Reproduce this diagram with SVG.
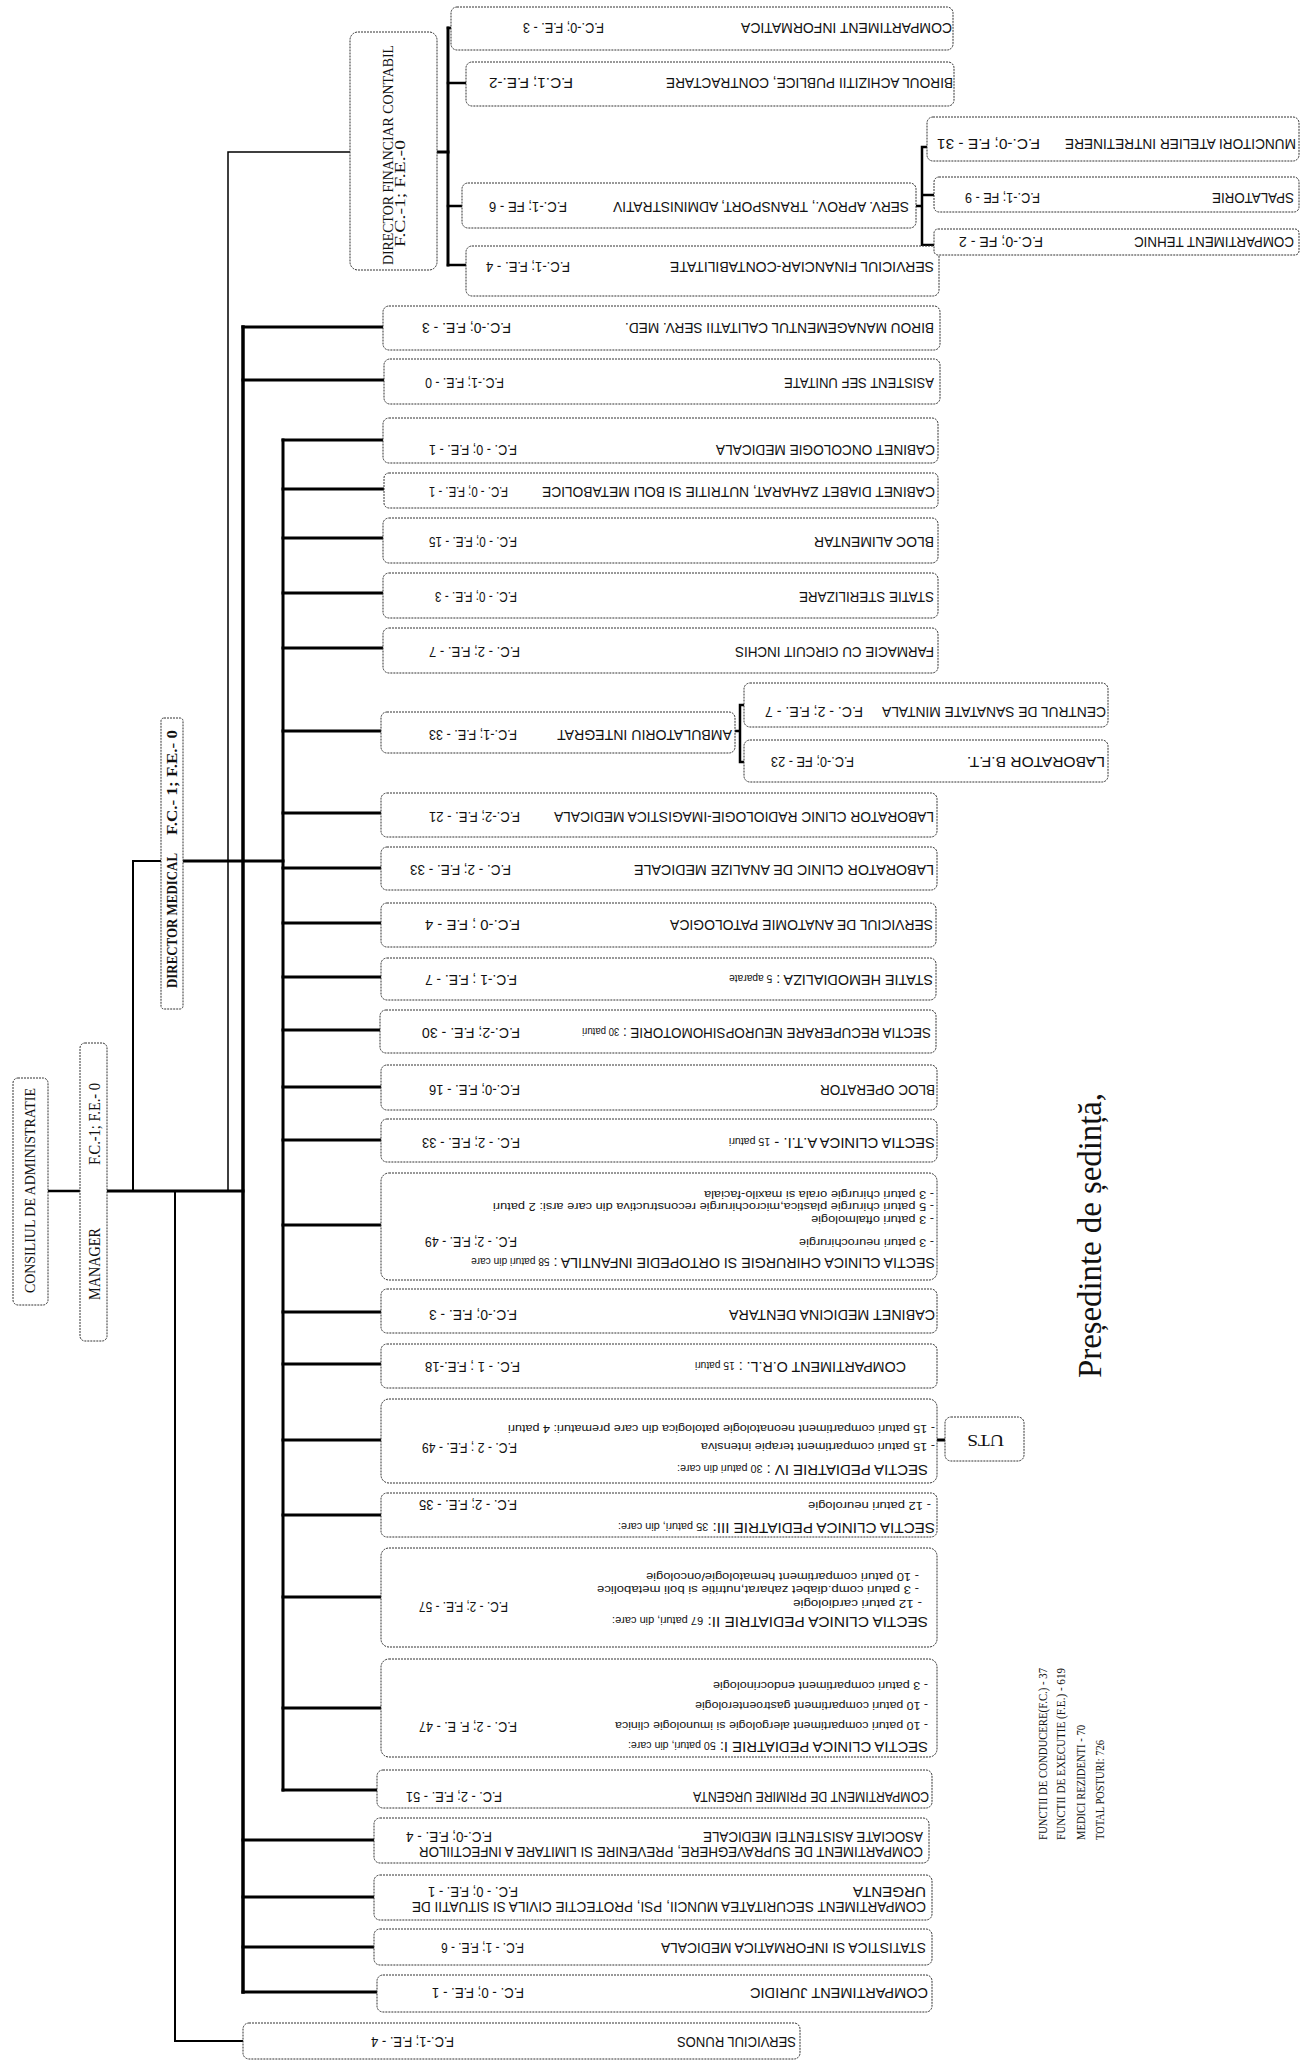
<svg xmlns="http://www.w3.org/2000/svg" width="1302" height="2067" viewBox="0 0 1302 2067">
<style>
.bg{fill:#fff}
.box{fill:#fff;stroke:#333;stroke-width:1;stroke-dasharray:2 1}
.c{fill:none;stroke:#000;stroke-linecap:square}
.w15{stroke-width:1.5}.w2{stroke-width:2}.w25{stroke-width:2.5}.w3{stroke-width:3}.w35{stroke-width:3.5}
.t{font-family:"Liberation Sans Narrow","Liberation Sans",Arial,sans-serif;font-size:14px;fill:#111}
.s{font-family:"Liberation Sans Narrow","Liberation Sans",Arial,sans-serif;font-size:10px;fill:#111}
.sm{font-size:10px}
.sf{font-family:"Liberation Serif","Times New Roman",serif;fill:#111}
</style>
<rect class="bg" x="0" y="0" width="1302" height="2067"/>

<g id="connectors">
<path class="c w25" d="M48 1191H80"/>
<path class="c w3" d="M107 1191H243"/>
<path class="c w2" d="M133 1191V861H161"/>
<path class="c w3" d="M183 861H283"/>
<path class="c w15" d="M228 1191V152H350"/>
<path class="c w3" d="M437 152H448"/>
<path class="c w3" d="M448 28V265"/>
<path class="c w25" d="M448 28H451M448 83H466M448 206H462M448 265H466"/>
<path class="c w25" d="M916 206H922M922 147V245M922 147H927M922 195H934M922 245H934"/>
<path class="c w35" d="M243 327V1992"/>
<path class="c w3" d="M243 327H383M243 380H384M243 1840H374M243 1897H374M243 1947H374M243 1992H377"/>
<path class="c w2" d="M175 1191V2041H243"/>
<path class="c w3" d="M283 440V1790"/>
<path class="c w3" d="M283 440H383M283 489H384M283 538H383M283 593H383M283 648H383M283 731H381M283 813H381M283 868H381M283 923H381M283 977H381M283 1030H380M283 1087H381M283 1140H381M283 1225H381M283 1312H381M283 1364H381M283 1440H381M283 1515H381M283 1597H381M283 1708H381M283 1790H377"/>
<path class="c w25" d="M735 731H740M740 705V762M740 705H744M740 762H744"/>
<path class="c w3" d="M937 1440H945"/>
</g>

<g id="consiliul">
<rect class="box" x="13" y="1078" width="35" height="227" rx="5"/>
<text class="sf" font-size="15" x="35" y="1293" transform="rotate(-90 35 1293)" textLength="205" lengthAdjust="spacingAndGlyphs">CONSILIUL DE ADMINISTRATIE</text>
</g>
<g id="manager">
<rect class="box" x="80" y="1043" width="27" height="298" rx="5"/>
<text class="sf" font-size="17" x="100" y="1300" transform="rotate(-90 100 1300)" textLength="72" lengthAdjust="spacingAndGlyphs">MANAGER</text>
<text class="sf" font-size="17" x="100" y="1165" transform="rotate(-90 100 1165)" textLength="82" lengthAdjust="spacingAndGlyphs">F.C.-1; F.E.- 0</text>
</g>
<g id="director-medical">
<rect class="box" x="161" y="718" width="22" height="291" rx="3"/>
<text class="sf" font-size="15" font-weight="bold" x="177" y="988" transform="rotate(-90 177 988)" textLength="135" lengthAdjust="spacingAndGlyphs">DIRECTOR MEDICAL</text>
<text class="sf" font-size="15" font-weight="bold" x="177" y="835" transform="rotate(-90 177 835)" textLength="105" lengthAdjust="spacingAndGlyphs">F.C.- 1; F.E.- 0</text>
</g>
<g id="director-financiar">
<rect class="box" x="350" y="32" width="87" height="238" rx="8"/>
<text class="sf" font-size="15" x="393" y="265" transform="rotate(-90 393 265)" textLength="220" lengthAdjust="spacingAndGlyphs">DIRECTOR FINANCIAR CONTABIL</text>
<text class="sf" font-size="15" x="405" y="247" transform="rotate(-90 405 247)" textLength="107" lengthAdjust="spacingAndGlyphs">F.C.-1;  F.E.-0</text>
</g>

<g id="comp-informatica">
<rect class="box" x="451" y="7" width="502" height="43" rx="6"/>
<text class="t" x="952" y="23" transform="rotate(180 952 23)" textLength="211" lengthAdjust="spacingAndGlyphs">COMPARTIMENT INFORMATICA</text>
<text class="t" x="604" y="23" transform="rotate(180 604 23)" textLength="81" lengthAdjust="spacingAndGlyphs">F.C.-0; F.E. - 3</text>
</g>
<g id="birou-achizitii">
<rect class="box" x="466" y="62" width="488" height="44" rx="6"/>
<text class="t" x="953" y="78" transform="rotate(180 953 78)" textLength="287" lengthAdjust="spacingAndGlyphs">BIROUL ACHIZITII PUBLICE, CONTRACTARE</text>
<text class="t" x="573" y="78" transform="rotate(180 573 78)" textLength="84" lengthAdjust="spacingAndGlyphs">F.C.1; F.E.-2</text>
</g>
<g id="serv-aprov">
<rect class="box" x="462" y="183" width="454" height="45" rx="6"/>
<text class="t" x="909" y="202" transform="rotate(180 909 202)" textLength="296" lengthAdjust="spacingAndGlyphs">SERV. APROV., TRANSPORT, ADMINISTRATIV</text>
<text class="t" x="567" y="202" transform="rotate(180 567 202)" textLength="78" lengthAdjust="spacingAndGlyphs">F.C.-1;  FE - 6</text>
</g>
<g id="serv-financiar">
<rect class="box" x="466" y="246" width="473" height="50" rx="6"/>
<text class="t" x="934" y="262" transform="rotate(180 934 262)" textLength="264" lengthAdjust="spacingAndGlyphs">SERVICIUL FINANCIAR-CONTABILITATE</text>
<text class="t" x="570" y="262" transform="rotate(180 570 262)" textLength="84" lengthAdjust="spacingAndGlyphs">F.C.-1; F.E. - 4</text>
</g>
<g id="muncitori">
<rect class="box" x="927" y="117" width="372" height="44" rx="6"/>
<text class="t" x="1296" y="139" transform="rotate(180 1296 139)" textLength="231" lengthAdjust="spacingAndGlyphs">MUNCITORI  ATELIER  INTRETINERE</text>
<text class="t" x="1040" y="139" transform="rotate(180 1040 139)" textLength="103" lengthAdjust="spacingAndGlyphs">F.C.-0;  F.E - 31</text>
</g>
<g id="spalatorie">
<rect class="box" x="934" y="177" width="365" height="35" rx="5"/>
<text class="t" x="1294" y="193" transform="rotate(180 1294 193)" textLength="82" lengthAdjust="spacingAndGlyphs">SPALATORIE</text>
<text class="t" x="1040" y="193" transform="rotate(180 1040 193)" textLength="75" lengthAdjust="spacingAndGlyphs">F.C.-1;  FE - 9</text>
</g>
<g id="comp-tehnic">
<rect class="box" x="934" y="229" width="365" height="26" rx="4"/>
<text class="t" x="1294" y="237" transform="rotate(180 1294 237)" textLength="160" lengthAdjust="spacingAndGlyphs">COMPARTIMENT TEHNIC</text>
<text class="t" x="1043" y="237" transform="rotate(180 1043 237)" textLength="84" lengthAdjust="spacingAndGlyphs">F.C.-0;  FE - 2</text>
</g>

<g id="birou-calitate">
<rect class="box" x="383" y="306" width="557" height="44" rx="6"/>
<text class="t" x="934" y="323" transform="rotate(180 934 323)" textLength="309" lengthAdjust="spacingAndGlyphs">BIROU MANAGEMENTUL CALITATII SERV. MED.</text>
<text class="t" x="511" y="323" transform="rotate(180 511 323)" textLength="89" lengthAdjust="spacingAndGlyphs">F.C.-0; F.E. - 3</text>
</g>
<g id="asistent-sef">
<rect class="box" x="384" y="359" width="556" height="45" rx="6"/>
<text class="t" x="934" y="378" transform="rotate(180 934 378)" textLength="150" lengthAdjust="spacingAndGlyphs">ASISTENT SEF UNITATE</text>
<text class="t" x="504" y="378" transform="rotate(180 504 378)" textLength="79" lengthAdjust="spacingAndGlyphs">F.C.-1; F.E. - 0</text>
</g>
<g id="cabinet-oncologie">
<rect class="box" x="383" y="418" width="555" height="45" rx="6"/>
<text class="t" x="935" y="445" transform="rotate(180 935 445)" textLength="219" lengthAdjust="spacingAndGlyphs">CABINET ONCOLOGIE MEDICALA</text>
<text class="t" x="517" y="445" transform="rotate(180 517 445)" textLength="88" lengthAdjust="spacingAndGlyphs">F.C. - 0; F.E. - 1</text>
</g>
<g id="cabinet-diabet">
<rect class="box" x="384" y="473" width="554" height="35" rx="5"/>
<text class="t" x="935" y="487" transform="rotate(180 935 487)" textLength="393" lengthAdjust="spacingAndGlyphs">CABINET DIABET ZAHARAT, NUTRITIE SI BOLI METABOLICE</text>
<text class="t" x="508" y="487" transform="rotate(180 508 487)" textLength="79" lengthAdjust="spacingAndGlyphs">F.C. - 0; F.E. - 1</text>
</g>
<g id="bloc-alimentar">
<rect class="box" x="383" y="518" width="555" height="45" rx="6"/>
<text class="t" x="934" y="537" transform="rotate(180 934 537)" textLength="120" lengthAdjust="spacingAndGlyphs">BLOC ALIMENTAR</text>
<text class="t" x="517" y="537" transform="rotate(180 517 537)" textLength="88" lengthAdjust="spacingAndGlyphs">F.C. - 0; F.E. - 15</text>
</g>
<g id="statie-sterilizare">
<rect class="box" x="383" y="573" width="555" height="45" rx="6"/>
<text class="t" x="934" y="592" transform="rotate(180 934 592)" textLength="135" lengthAdjust="spacingAndGlyphs">STATIE STERILIZARE</text>
<text class="t" x="517" y="592" transform="rotate(180 517 592)" textLength="82" lengthAdjust="spacingAndGlyphs">F.C. - 0; F.E. - 3</text>
</g>
<g id="farmacie">
<rect class="box" x="383" y="628" width="555" height="45" rx="6"/>
<text class="t" x="934" y="647" transform="rotate(180 934 647)" textLength="199" lengthAdjust="spacingAndGlyphs">FARMACIE CU CIRCUIT INCHIS</text>
<text class="t" x="520" y="647" transform="rotate(180 520 647)" textLength="91" lengthAdjust="spacingAndGlyphs">F.C. - 2;  F.E. - 7</text>
</g>
<g id="ambulatoriu">
<rect class="box" x="381" y="712" width="354" height="41" rx="6"/>
<text class="t" x="732" y="730" transform="rotate(180 732 730)" textLength="175" lengthAdjust="spacingAndGlyphs">AMBULATORIU INTEGRAT</text>
<text class="t" x="517" y="730" transform="rotate(180 517 730)" textLength="88" lengthAdjust="spacingAndGlyphs">F.C.-1; F.E. - 33</text>
</g>
<g id="centrul-sanatate-mintala">
<rect class="box" x="744" y="683" width="364" height="44" rx="6"/>
<text class="t" x="1106" y="707" transform="rotate(180 1106 707)" textLength="224" lengthAdjust="spacingAndGlyphs">CENTRUL DE SANATATE MINTALA</text>
<text class="t" x="863" y="707" transform="rotate(180 863 707)" textLength="98" lengthAdjust="spacingAndGlyphs">F.C. - 2;  F.E.  - 7</text>
</g>
<g id="laborator-bft">
<rect class="box" x="744" y="740" width="364" height="42" rx="6"/>
<text class="t" x="1105" y="757" transform="rotate(180 1105 757)" textLength="138" lengthAdjust="spacingAndGlyphs">LABORATOR B.F.T.</text>
<text class="t" x="854" y="757" transform="rotate(180 854 757)" textLength="83" lengthAdjust="spacingAndGlyphs">F.C.-0;  FE - 23</text>
</g>
<g id="laborator-radiologie">
<rect class="box" x="381" y="793" width="556" height="44" rx="6"/>
<text class="t" x="934" y="812" transform="rotate(180 934 812)" textLength="380" lengthAdjust="spacingAndGlyphs">LABORATOR CLINIC RADIOLOGIE-IMAGISTICA MEDICALA</text>
<text class="t" x="520" y="812" transform="rotate(180 520 812)" textLength="91" lengthAdjust="spacingAndGlyphs">F.C.-2; F.E. - 21</text>
</g>
<g id="laborator-analize">
<rect class="box" x="381" y="847" width="556" height="43" rx="6"/>
<text class="t" x="934" y="865" transform="rotate(180 934 865)" textLength="300" lengthAdjust="spacingAndGlyphs">LABORATOR CLINIC DE ANALIZE  MEDICALE</text>
<text class="t" x="511" y="865" transform="rotate(180 511 865)" textLength="101" lengthAdjust="spacingAndGlyphs">F.C. - 2; F.E. - 33</text>
</g>
<g id="anatomie-patologica">
<rect class="box" x="381" y="903" width="555" height="44" rx="6"/>
<text class="t" x="933" y="920" transform="rotate(180 933 920)" textLength="263" lengthAdjust="spacingAndGlyphs">SERVICIUL DE ANATOMIE PATOLOGICA</text>
<text class="t" x="520" y="920" transform="rotate(180 520 920)" textLength="95" lengthAdjust="spacingAndGlyphs">F.C.-0 ;  F.E - 4</text>
</g>
<g id="hemodializa">
<rect class="box" x="381" y="958" width="555" height="42" rx="6"/>
<text class="t" x="933" y="975" transform="rotate(180 933 975)" textLength="204" lengthAdjust="spacingAndGlyphs">STATIE HEMODIALIZA : <tspan class="sm">5 aparate</tspan></text>
<text class="t" x="517" y="975" transform="rotate(180 517 975)" textLength="92" lengthAdjust="spacingAndGlyphs">F.C.-1 ; F.E. - 7</text>
</g>
<g id="recuperare">
<rect class="box" x="380" y="1010" width="556" height="43" rx="6"/>
<text class="t" x="931" y="1028" transform="rotate(180 931 1028)" textLength="349" lengthAdjust="spacingAndGlyphs">SECTIA RECUPERARE NEUROPSIHOMOTORIE : <tspan class="sm">30 paturi</tspan></text>
<text class="t" x="520" y="1028" transform="rotate(180 520 1028)" textLength="98" lengthAdjust="spacingAndGlyphs">F.C.-2;  F.E. - 30</text>
</g>
<g id="bloc-operator">
<rect class="box" x="381" y="1065" width="556" height="45" rx="6"/>
<text class="t" x="935" y="1085" transform="rotate(180 935 1085)" textLength="115" lengthAdjust="spacingAndGlyphs">BLOC OPERATOR</text>
<text class="t" x="520" y="1085" transform="rotate(180 520 1085)" textLength="91" lengthAdjust="spacingAndGlyphs">F.C.-0;  F.E. - 16</text>
</g>
<g id="sectia-ati">
<rect class="box" x="381" y="1119" width="556" height="43" rx="6"/>
<text class="t" x="935" y="1138" transform="rotate(180 935 1138)" textLength="206" lengthAdjust="spacingAndGlyphs">SECTIA CLINICA A.T.I. - <tspan class="sm">15 paturi</tspan></text>
<text class="t" x="520" y="1138" transform="rotate(180 520 1138)" textLength="98" lengthAdjust="spacingAndGlyphs">F.C. - 2;  F.E. - 33</text>
</g>
<g id="sectia-chirurgie">
<rect class="box" x="381" y="1173" width="556" height="107" rx="8"/>
<text class="t" font-size="13" x="935" y="1258" transform="rotate(180 935 1258)" textLength="464" lengthAdjust="spacingAndGlyphs">SECTIA CLINICA CHIRURGIE SI ORTOPEDIE INFANTILA : <tspan class="sm">58 paturi din care</tspan></text>
<text class="s" x="934" y="1239" transform="rotate(180 934 1239)" textLength="135" lengthAdjust="spacingAndGlyphs">- 3 paturi neurochirurgie</text>
<text class="t" x="517" y="1237" transform="rotate(180 517 1237)" textLength="92" lengthAdjust="spacingAndGlyphs">F.C. - 2; F.E. - 49</text>
<text class="s" x="934" y="1216" transform="rotate(180 934 1216)" textLength="123" lengthAdjust="spacingAndGlyphs">- 3 paturi oftalmologie</text>
<text class="s" x="934" y="1203" transform="rotate(180 934 1203)" textLength="441" lengthAdjust="spacingAndGlyphs">- 5 paturi chirurgie plastica,microchirurgie reconstructiva din care arsi: 2 paturi</text>
<text class="s" x="934" y="1191" transform="rotate(180 934 1191)" textLength="230" lengthAdjust="spacingAndGlyphs">- 3 paturi chirurgie orala si maxilo-faciala</text>
</g>
<g id="cabinet-dentara">
<rect class="box" x="381" y="1289" width="556" height="44" rx="6"/>
<text class="t" x="935" y="1310" transform="rotate(180 935 1310)" textLength="206" lengthAdjust="spacingAndGlyphs">CABINET MEDICINA DENTARA</text>
<text class="t" x="517" y="1310" transform="rotate(180 517 1310)" textLength="88" lengthAdjust="spacingAndGlyphs">F.C.-0; F.E. - 3</text>
</g>
<g id="comp-orl">
<rect class="box" x="381" y="1344" width="556" height="44" rx="6"/>
<text class="t" x="906" y="1362" transform="rotate(180 906 1362)" textLength="211" lengthAdjust="spacingAndGlyphs">COMPARTIMENT O.R.L. : <tspan class="sm">15 paturi</tspan></text>
<text class="t" x="520" y="1362" transform="rotate(180 520 1362)" textLength="95" lengthAdjust="spacingAndGlyphs">F.C. - 1 ; F.E.-18</text>
</g>
<g id="sectia-pediatrie-iv">
<rect class="box" x="381" y="1399" width="556" height="84" rx="8"/>
<text class="t" font-size="13" x="928" y="1465" transform="rotate(180 928 1465)" textLength="251" lengthAdjust="spacingAndGlyphs">SECTIA PEDIATRIE IV : <tspan class="sm">30 paturi din care:</tspan></text>
<text class="s" x="935" y="1443" transform="rotate(180 935 1443)" textLength="234" lengthAdjust="spacingAndGlyphs">- 15 paturi compartiment terapie intensiva</text>
<text class="t" x="517" y="1443" transform="rotate(180 517 1443)" textLength="95" lengthAdjust="spacingAndGlyphs">F.C. - 2 ; F.E. - 49</text>
<text class="s" x="935" y="1425" transform="rotate(180 935 1425)" textLength="427" lengthAdjust="spacingAndGlyphs">- 15 paturi compartiment neonatologie patologica din care prematuri: 4 paturi</text>
</g>
<g id="uts">
<rect class="box" x="945" y="1417" width="79" height="44" rx="6"/>
<text class="sf" font-size="16" x="1004" y="1435" transform="rotate(180 1004 1435)" textLength="37" lengthAdjust="spacingAndGlyphs">UTS</text>
</g>
<g id="sectia-pediatrie-iii">
<rect class="box" x="381" y="1493" width="556" height="44" rx="6"/>
<text class="t" font-size="13" x="935" y="1523" transform="rotate(180 935 1523)" textLength="317" lengthAdjust="spacingAndGlyphs">SECTIA CLINICA  PEDIATRIE III: <tspan class="sm">35 paturi, din care:</tspan></text>
<text class="s" x="931" y="1502" transform="rotate(180 931 1502)" textLength="123" lengthAdjust="spacingAndGlyphs">- 12 paturi neurologie</text>
<text class="t" x="517" y="1500" transform="rotate(180 517 1500)" textLength="98" lengthAdjust="spacingAndGlyphs">F.C. - 2; F.E. - 35</text>
</g>
<g id="sectia-pediatrie-ii">
<rect class="box" x="381" y="1548" width="556" height="99" rx="8"/>
<text class="t" font-size="13" x="928" y="1617" transform="rotate(180 928 1617)" textLength="316" lengthAdjust="spacingAndGlyphs">SECTIA CLINICA PEDIATRIE II: <tspan class="sm">67  paturi, din care:</tspan></text>
<text class="s" x="922" y="1600" transform="rotate(180 922 1600)" textLength="129" lengthAdjust="spacingAndGlyphs">- 12 paturi cardiologie</text>
<text class="t" x="508" y="1602" transform="rotate(180 508 1602)" textLength="89" lengthAdjust="spacingAndGlyphs">F.C. - 2; F.E. - 57</text>
<text class="s" x="919" y="1586" transform="rotate(180 919 1586)" textLength="322" lengthAdjust="spacingAndGlyphs">- 3 paturi comp.diabet zaharat,nutritie  si boli metabolice</text>
<text class="s" x="919" y="1573" transform="rotate(180 919 1573)" textLength="273" lengthAdjust="spacingAndGlyphs">- 10 paturi compartiment hematologie/oncologie</text>
</g>
<g id="sectia-pediatrie-i">
<rect class="box" x="381" y="1659" width="556" height="98" rx="8"/>
<text class="t" font-size="13" x="928" y="1742" transform="rotate(180 928 1742)" textLength="300" lengthAdjust="spacingAndGlyphs">SECTIA CLINICA PEDIATRIE I: <tspan class="sm">50 paturi, din care:</tspan></text>
<text class="s" x="928" y="1722" transform="rotate(180 928 1722)" textLength="313" lengthAdjust="spacingAndGlyphs">- 10 paturi compartiment alergologie si imunologie clinica</text>
<text class="t" x="517" y="1722" transform="rotate(180 517 1722)" textLength="98" lengthAdjust="spacingAndGlyphs">F.C. - 2; F. E. - 47</text>
<text class="s" x="928" y="1702" transform="rotate(180 928 1702)" textLength="233" lengthAdjust="spacingAndGlyphs">- 10 paturi compartiment gastroenterologie</text>
<text class="s" x="928" y="1682" transform="rotate(180 928 1682)" textLength="215" lengthAdjust="spacingAndGlyphs">- 3 paturi compartiment endocrinologie</text>
</g>
<g id="primire-urgenta">
<rect class="box" x="377" y="1770" width="555" height="38" rx="6"/>
<text class="t" x="929" y="1792" transform="rotate(180 929 1792)" textLength="236" lengthAdjust="spacingAndGlyphs">COMPARTIMENT DE PRIMIRE URGENTA</text>
<text class="t" x="502" y="1792" transform="rotate(180 502 1792)" textLength="96" lengthAdjust="spacingAndGlyphs">F.C. - 2; F.E. - 51</text>
</g>
<g id="supraveghere-infectii">
<rect class="box" x="374" y="1818" width="555" height="45" rx="6"/>
<text class="t" font-size="13" x="923" y="1847" transform="rotate(180 923 1847)" textLength="504" lengthAdjust="spacingAndGlyphs">COMPARTIMENT DE SUPRAVEGHERE, PREVENIRE SI LIMITARE A INFECTIILOR</text>
<text class="t" font-size="13" x="923" y="1832" transform="rotate(180 923 1832)" textLength="220" lengthAdjust="spacingAndGlyphs">ASOCIATE ASISTENTEI MEDICALE</text>
<text class="t" font-size="13" x="492" y="1832" transform="rotate(180 492 1832)" textLength="86" lengthAdjust="spacingAndGlyphs">F.C.-0; F.E. - 4</text>
</g>
<g id="securitatea-muncii">
<rect class="box" x="374" y="1875" width="558" height="45" rx="6"/>
<text class="t" font-size="13" x="926" y="1902" transform="rotate(180 926 1902)" textLength="514" lengthAdjust="spacingAndGlyphs">COMPARTIMENT SECURITATEA MUNCII, PSI, PROTECTIE CIVILA SI SITUATII DE</text>
<text class="t" font-size="13" x="926" y="1887" transform="rotate(180 926 1887)" textLength="73" lengthAdjust="spacingAndGlyphs">URGENTA</text>
<text class="t" font-size="13" x="518" y="1887" transform="rotate(180 518 1887)" textLength="90" lengthAdjust="spacingAndGlyphs">F.C. - 0; F.E. - 1</text>
</g>
<g id="statistica">
<rect class="box" x="374" y="1929" width="558" height="36" rx="6"/>
<text class="t" x="926" y="1943" transform="rotate(180 926 1943)" textLength="265" lengthAdjust="spacingAndGlyphs">STATISTICA SI INFORMATICA MEDICALA</text>
<text class="t" x="524" y="1943" transform="rotate(180 524 1943)" textLength="83" lengthAdjust="spacingAndGlyphs">F.C. - 1; F.E. - 6</text>
</g>
<g id="juridic">
<rect class="box" x="377" y="1975" width="555" height="37" rx="6"/>
<text class="t" x="928" y="1988" transform="rotate(180 928 1988)" textLength="178" lengthAdjust="spacingAndGlyphs">COMPARTIMENT    JURIDIC</text>
<text class="t" x="524" y="1988" transform="rotate(180 524 1988)" textLength="92" lengthAdjust="spacingAndGlyphs">F.C. - 0;  F.E. - 1</text>
</g>
<g id="runos">
<rect class="box" x="243" y="2023" width="557" height="36" rx="6"/>
<text class="t" x="796" y="2037" transform="rotate(180 796 2037)" textLength="119" lengthAdjust="spacingAndGlyphs">SERVICIUL RUNOS</text>
<text class="t" x="454" y="2037" transform="rotate(180 454 2037)" textLength="83" lengthAdjust="spacingAndGlyphs">F.C.-1; F.E. - 4</text>
</g>

<g id="presedinte">
<text class="sf" font-size="33" x="1101" y="1378" transform="rotate(-90 1101 1378)" textLength="285" lengthAdjust="spacingAndGlyphs">Președinte de ședință,</text>
</g>
<g id="totaluri">
<text class="sf" font-size="12" x="1047" y="1840" transform="rotate(-90 1047 1840)" textLength="172" lengthAdjust="spacingAndGlyphs">FUNCTII DE CONDUCERE(F.C.) - 37</text>
<text class="sf" font-size="12" x="1065" y="1840" transform="rotate(-90 1065 1840)" textLength="172" lengthAdjust="spacingAndGlyphs">FUNCTII DE EXECUTIE (F.E.) - 619</text>
<text class="sf" font-size="12" x="1085" y="1840" transform="rotate(-90 1085 1840)" textLength="115" lengthAdjust="spacingAndGlyphs">MEDICI REZIDENTI - 70</text>
<text class="sf" font-size="12" x="1104" y="1840" transform="rotate(-90 1104 1840)" textLength="100" lengthAdjust="spacingAndGlyphs">TOTAL POSTURI: 726</text>
</g>
</svg>
